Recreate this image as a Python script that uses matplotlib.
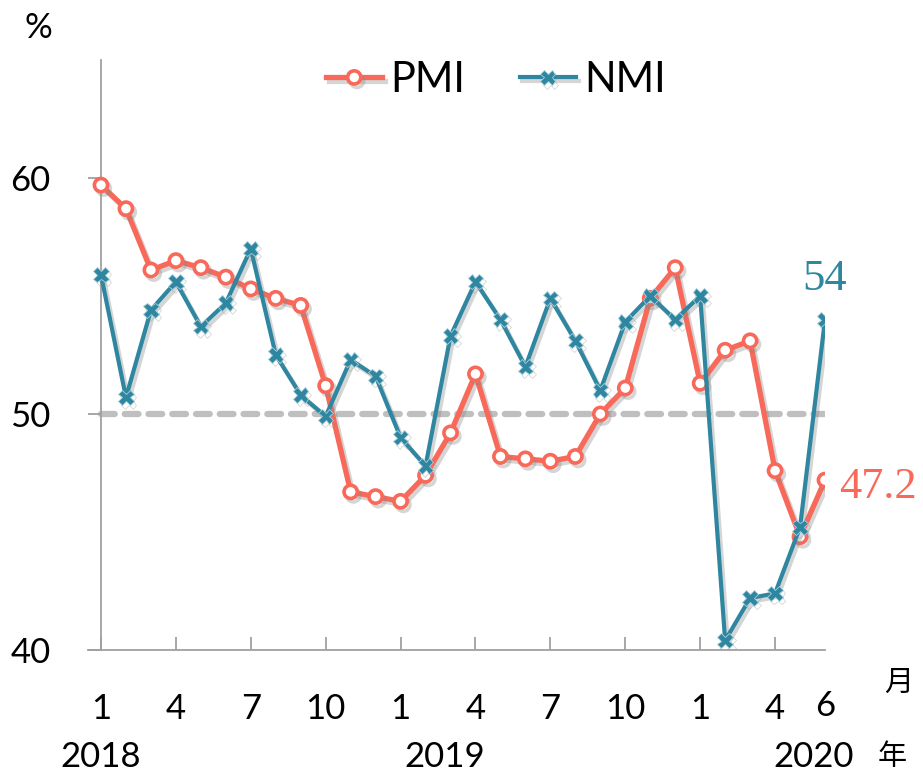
import matplotlib
matplotlib.use("Agg")
import matplotlib.pyplot as plt
import matplotlib.patheffects as pe
from matplotlib.transforms import blended_transform_factory

# ---- data ----
months = list(range(30))  # Jan 2018 .. Jun 2020
pmi = [59.7, 58.7, 56.1, 56.5, 56.2, 55.8, 55.3, 54.9, 54.6, 51.2, 46.7, 46.5,
       46.3, 47.4, 49.2, 51.7, 48.2, 48.1, 48.0, 48.2, 50.0, 51.1, 54.9, 56.2,
       51.3, 52.7, 53.1, 47.6, 44.8, 47.2]
nmi = [55.9, 50.7, 54.4, 55.6, 53.7, 54.7, 57.0, 52.5, 50.8, 49.9, 52.3, 51.6,
       49.0, 47.8, 53.3, 55.6, 54.0, 52.0, 54.9, 53.1, 51.0, 53.9, 55.0, 54.0,
       55.0, 40.4, 42.2, 42.4, 45.2, 54.0]
tick_pos = [0, 3, 6, 9, 12, 15, 18, 21, 24, 27]
tick_labels = ["1", "4", "7", "10", "1", "4", "7", "10", "1", "4"]
last_label = "6"
years = ["2018", "2019", "2020"]
year_pos = [0, 13.76, 28.56]
y_ticks = [40, 50, 60]

PMI_C = "#F8695A"
NMI_C = "#2E86A0"
FONT = "Lato"

fig = plt.figure(figsize=(9.23, 7.73), dpi=100)
ax = fig.add_axes([88/923, 1-650/773, (825-88)/923, 590/773])
ax.set_xlim(-0.52, 29)
ax.set_ylim(40, 65)

# reference line at 50
ax.plot([0, 29], [50, 50], color="#BFBFBF", lw=4.5, ls=(0, (2.2, 1.6)),
        dash_capstyle="round", zorder=1)

shadow = [pe.SimpleLineShadow(offset=(2, -2.5), shadow_color="#888888", alpha=0.35), pe.Normal()]

ax.plot(months, pmi, color=PMI_C, lw=3.8, marker="o", ms=9.5, mfc="white",
        mec=PMI_C, mew=2.6, label="PMI", zorder=3, path_effects=shadow,
        solid_joinstyle="round")
ax.plot(months, nmi, color=NMI_C, lw=3.0, marker="X", ms=11, mfc=NMI_C,
        mec="#A8D0DC", mew=0.6, label="NMI", zorder=4, path_effects=shadow,
        solid_joinstyle="round")

# spines
for s in ["top", "right"]:
    ax.spines[s].set_visible(False)
ax.spines["left"].set_position(("data", 0))
for s in ["left", "bottom"]:
    ax.spines[s].set_color("#A0A0A0")
    ax.spines[s].set_linewidth(1.3)

ax.set_yticks(y_ticks)
ax.set_yticklabels([str(v) for v in y_ticks], fontsize=25, family=FONT)
ax.tick_params(axis="y", direction="out", length=9.4, width=1.3, color="#A0A0A0", pad=27)

ax.set_xticks(tick_pos)
ax.set_xticklabels(tick_labels, fontsize=25, family=FONT)
ax.set_xticks([29], minor=True)
ax.set_xticklabels([last_label], minor=True, fontsize=25, family=FONT)
ax.tick_params(axis="x", which="major", direction="in", length=9.4, width=1.3,
               color="#A0A0A0", pad=31)
ax.tick_params(axis="x", which="minor", length=0, pad=29)

trans = blended_transform_factory(ax.transData, ax.transAxes)
for yr, xp in zip(years, year_pos):
    ax.text(xp, -0.181, yr, transform=trans, ha="center", va="center",
            fontsize=25, family=FONT, clip_on=False)

cjk = ["Noto Sans CJK TC", "DejaVu Sans"]
ax.text(31.96, -0.056, "月", transform=trans, ha="center", va="center",
        fontsize=21, family=cjk, clip_on=False)
ax.text(31.7, -0.181, "年", transform=trans, ha="center", va="center",
        fontsize=21, family=cjk, clip_on=False)
fig.text(38/923, 1-28/773, "%", ha="center", va="center", fontsize=25, family=FONT)

# end labels
ax.annotate("54", xy=(29, nmi[-1]), xytext=(0, 29.5), textcoords="offset points",
            ha="center", va="center", fontsize=32, family="Liberation Serif",
            color=NMI_C, annotation_clip=False)
ax.annotate("47.2", xy=(29, pmi[-1]), xytext=(10.5, -5), textcoords="offset points",
            ha="left", va="center", fontsize=32, family="Liberation Serif",
            color=PMI_C, annotation_clip=False)

leg = fig.legend(loc="center", bbox_to_anchor=(496/923, 1-80/773), ncol=2,
                 frameon=False, prop={"family": FONT, "size": 30},
                 handlelength=1.35, handletextpad=0.2, columnspacing=1.3)

fig.savefig("out.png", dpi=100)
